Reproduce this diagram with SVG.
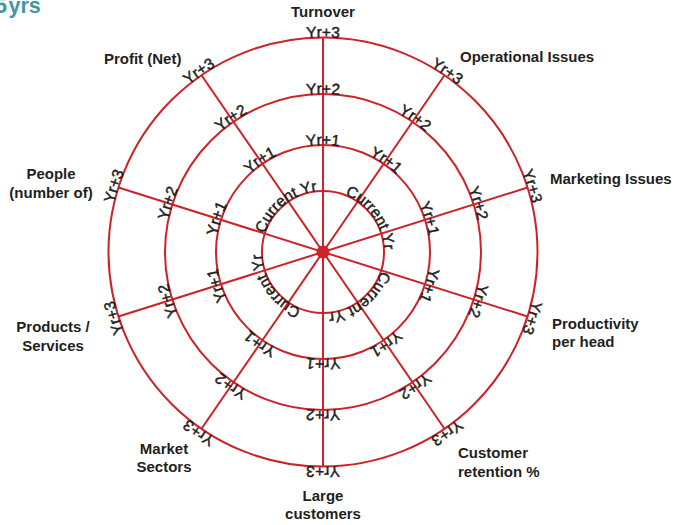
<svg xmlns="http://www.w3.org/2000/svg" xmlns:xlink="http://www.w3.org/1999/xlink" width="678" height="525" viewBox="0 0 678 525">
<style>
.ring{fill:none;stroke:#cc2229;stroke-width:2}
.spoke{stroke:#cc2229;stroke-width:2}
.yr{font-family:"Liberation Sans",Arial,sans-serif;font-size:15.5px;fill:#231f20;stroke:#231f20;stroke-width:0.45px;text-anchor:middle}
.lbl{font-family:"Liberation Sans",Arial,sans-serif;font-size:15px;font-weight:bold;fill:#231f20}
.mid{text-anchor:middle}
.title{font-family:"Liberation Sans",Arial,sans-serif;font-size:21.5px;font-weight:bold;fill:#3d97a5}
</style>
<defs>
<path id="p0" d="M323 313A61 61 0 0 1 323 191A61 61 0 0 1 323 313A61 61 0 0 1 323 191A61 61 0 0 1 323 313"/>
<path id="p1" d="M323 359A107 107 0 0 1 323 145A107 107 0 0 1 323 359A107 107 0 0 1 323 145A107 107 0 0 1 323 359"/>
<path id="p2" d="M323 410A158 158 0 0 1 323 94A158 158 0 0 1 323 410A158 158 0 0 1 323 94A158 158 0 0 1 323 410"/>
<path id="p3" d="M323 466.5A214.5 214.5 0 0 1 323 37.5A214.5 214.5 0 0 1 323 466.5A214.5 214.5 0 0 1 323 37.5A214.5 214.5 0 0 1 323 466.5"/>
</defs>

<text class="title" x="-5" y="13" word-spacing="-4.5">5 yrs</text>

<g id="rings">
<circle class="ring" cx="323" cy="252" r="61"/>
<circle class="ring" cx="323" cy="252" r="107"/>
<circle class="ring" cx="323" cy="252" r="158"/>
<circle class="ring" cx="323" cy="252" r="214.5"/>
</g>

<g id="connectors">
<line class="spoke" x1="323" y1="37.5" x2="323" y2="466.5"/>
<line class="spoke" x1="444.5" y1="75.2" x2="201.5" y2="428.8"/>
<line class="spoke" x1="527.6" y1="187.5" x2="118.4" y2="316.5"/>
<line class="spoke" x1="527.6" y1="316.5" x2="118.4" y2="187.5"/>
<line class="spoke" x1="444.5" y1="428.8" x2="201.5" y2="75.2"/>
</g>

<g id="center"><circle cx="323" cy="252" r="6.5" fill="#cc2229"/></g>

<g id="current-yr">
<text class="yr"><textPath xlink:href="#p0" href="#p0" startOffset="69.58%">Current Yr</textPath></text>
<text class="yr"><textPath xlink:href="#p0" href="#p0" startOffset="32.57%">Current Yr</textPath></text>
<text class="yr"><textPath xlink:href="#p0" href="#p0" startOffset="44.65%">Current Yr</textPath></text>
<text class="yr"><textPath xlink:href="#p0" href="#p0" startOffset="57.57%">Current Yr</textPath></text>
</g>

<g id="yr1">
<text class="yr"><textPath href="#p1" startOffset="25%">Yr+1</textPath></text>
<text class="yr"><textPath href="#p1" startOffset="29.792%">Yr+1</textPath></text>
<text class="yr"><textPath href="#p1" startOffset="35.069%">Yr+1</textPath></text>
<text class="yr"><textPath href="#p1" startOffset="39.931%">Yr+1</textPath></text>
<text class="yr"><textPath href="#p1" startOffset="45.208%">Yr+1</textPath></text>
<text class="yr"><textPath href="#p1" startOffset="50%">Yr+1</textPath></text>
<text class="yr"><textPath href="#p1" startOffset="54.792%">Yr+1</textPath></text>
<text class="yr"><textPath href="#p1" startOffset="60.069%">Yr+1</textPath></text>
<text class="yr"><textPath href="#p1" startOffset="64.931%">Yr+1</textPath></text>
<text class="yr"><textPath href="#p1" startOffset="70.208%">Yr+1</textPath></text>
</g>

<g id="yr2">
<text class="yr"><textPath href="#p2" startOffset="25%">Yr+2</textPath></text>
<text class="yr"><textPath href="#p2" startOffset="29.792%">Yr+2</textPath></text>
<text class="yr"><textPath href="#p2" startOffset="35.069%">Yr+2</textPath></text>
<text class="yr"><textPath href="#p2" startOffset="39.931%">Yr+2</textPath></text>
<text class="yr"><textPath href="#p2" startOffset="45.208%">Yr+2</textPath></text>
<text class="yr"><textPath href="#p2" startOffset="50%">Yr+2</textPath></text>
<text class="yr"><textPath href="#p2" startOffset="54.792%">Yr+2</textPath></text>
<text class="yr"><textPath href="#p2" startOffset="60.069%">Yr+2</textPath></text>
<text class="yr"><textPath href="#p2" startOffset="64.931%">Yr+2</textPath></text>
<text class="yr"><textPath href="#p2" startOffset="70.208%">Yr+2</textPath></text>
</g>

<g id="yr3">
<text class="yr"><textPath href="#p3" startOffset="25%">Yr+3</textPath></text>
<text class="yr"><textPath href="#p3" startOffset="29.792%">Yr+3</textPath></text>
<text class="yr"><textPath href="#p3" startOffset="35.069%">Yr+3</textPath></text>
<text class="yr"><textPath href="#p3" startOffset="39.931%">Yr+3</textPath></text>
<text class="yr"><textPath href="#p3" startOffset="45.208%">Yr+3</textPath></text>
<text class="yr"><textPath href="#p3" startOffset="50%">Yr+3</textPath></text>
<text class="yr"><textPath href="#p3" startOffset="54.792%">Yr+3</textPath></text>
<text class="yr"><textPath href="#p3" startOffset="60.069%">Yr+3</textPath></text>
<text class="yr"><textPath href="#p3" startOffset="64.931%">Yr+3</textPath></text>
<text class="yr"><textPath href="#p3" startOffset="70.208%">Yr+3</textPath></text>
</g>

<g id="turnover"><text class="lbl mid" x="323" y="17">Turnover</text></g>
<g id="operational"><text class="lbl" x="460" y="62">Operational Issues</text></g>
<g id="marketing"><text class="lbl" x="550" y="184">Marketing Issues</text></g>
<g id="productivity"><text class="lbl" x="552" y="329">Productivity</text><text class="lbl" x="552" y="347">per head</text></g>
<g id="retention"><text class="lbl" x="458" y="458">Customer</text><text class="lbl" x="458" y="477">retention %</text></g>
<g id="large"><text class="lbl mid" x="323" y="501">Large</text><text class="lbl mid" x="323" y="519">customers</text></g>
<g id="market"><text class="lbl mid" x="164" y="454">Market</text><text class="lbl mid" x="164" y="472">Sectors</text></g>
<g id="products"><text class="lbl mid" x="53" y="332">Products /</text><text class="lbl mid" x="53" y="351">Services</text></g>
<g id="people"><text class="lbl mid" x="51" y="179">People</text><text class="lbl mid" x="51" y="198">(number of)</text></g>
<g id="profit"><text class="lbl mid" x="142.7" y="64">Profit (Net)</text></g>
</svg>
